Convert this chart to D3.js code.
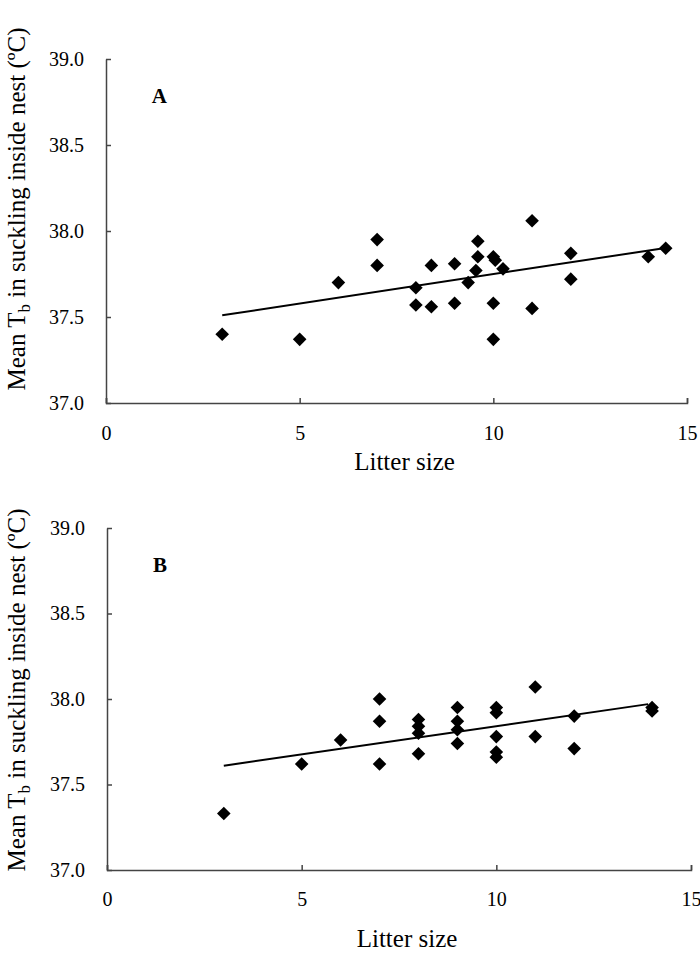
<!DOCTYPE html>
<html><head><meta charset="utf-8">
<script src="https://cdn.jsdelivr.net/npm/d3@7"></script>
<style>body{margin:0;background:#fff}svg{display:block}text{font-family:"Liberation Serif","Times New Roman",serif;fill:#000}</style>
</head><body>
<script>
// Panel A data
const litterA = [3,5,6,7,7,8,8,8.4,8.4,9,9,9.35,9.6,9.6,9.55,10,10.05,10,10,10.25,11,11,12,12,14,14.45];
const tempA   = [37.40,37.37,37.70,37.95,37.80,37.67,37.57,37.80,37.56,37.81,37.58,37.70,37.94,37.85,37.77,37.85,37.83,37.58,37.37,37.78,38.06,37.55,37.87,37.72,37.85,37.90];
const trendA  = [[3,37.51],[14.4,37.90]];
// Panel B data
const litterB = [3,5,6,7,7,7,8,8,8,8,9,9,9,9,10,10,10,10,10,11,11,12,12,14,14];
const tempB   = [37.33,37.62,37.76,38.00,37.87,37.62,37.88,37.84,37.80,37.68,37.95,37.87,37.82,37.74,37.95,37.92,37.78,37.69,37.66,38.07,37.78,37.90,37.71,37.95,37.93];
const trendB  = [[3,37.61],[13.9,37.97]];
const xTicks = [0,5,10,15];
const yTicks = [37.0,37.5,38.0,38.5,39.0];
const yTitle = "Mean T";

const W=700,H=955;
const svg=d3.select("body").append("svg").attr("width",W).attr("height",H);

function panel(o){
  const x=d3.scaleLinear().domain([0,15]).range([o.x0,o.x1]);
  const y=d3.scaleLinear().domain([37,39]).range([o.y0,o.y1]);
  const g=svg.append("g");
  const ax=g.append("g").attr("transform",`translate(0,${o.y0})`)
    .call(d3.axisBottom(x).tickValues(xTicks).tickSizeInner(-5).tickSizeOuter(-5).tickPadding(o.xpad).tickFormat(d3.format("d")));
  const ay=g.append("g").attr("transform",`translate(${o.x0},0)`)
    .call(d3.axisLeft(y).tickValues(yTicks).tickSizeInner(-5).tickSizeOuter(0).tickPadding(22).tickFormat(d3.format(".1f")));
  [ax,ay].forEach(a=>{
    a.attr("font-family","Liberation Serif");
    a.selectAll("path,line").attr("stroke","#444").attr("stroke-width",1.5);
    a.selectAll("text").attr("font-size",20).attr("font-family","Liberation Serif").attr("fill","#000");
  });
  const pts=o.xs.map((v,i)=>({x:v,y:o.ys[i]}));
  g.selectAll("path.pt").data(pts).enter().append("path").attr("class","pt")
    .attr("d","M0,-6.8L6.8,0L0,6.8L-6.8,0Z").attr("fill","#000")
    .attr("transform",d=>`translate(${x(d.x)},${y(d.y)})`);
  g.append("path").datum(o.trend).attr("fill","none").attr("stroke","#000").attr("stroke-width",2)
    .attr("d",d3.line().x(d=>x(d[0])).y(d=>y(d[1])));
  g.append("text").attr("x",x(1.18)).attr("y",y(38.744)).attr("font-size",21).attr("font-weight","bold").text(o.letter);
  g.append("text").attr("x",(o.x0+o.x1)/2+8).attr("y",o.xtY).attr("text-anchor","middle").attr("font-size",25).text("Litter size");
  const t=g.append("text").attr("transform",`translate(25,${o.ytC}) rotate(-90)`).attr("text-anchor","middle").attr("font-size",25);
  t.append("tspan").text(yTitle);
  t.append("tspan").attr("font-size",17).attr("dy",5).text("b");
  t.append("tspan").attr("dy",-5).text(" in suckling inside nest (ºC)");
}
panel({xs:litterA,ys:tempA,trend:trendA,letter:"A",x0:106,x1:687,y0:403,y1:59,xpad:23,xtY:470,ytC:209});
panel({xs:litterB,ys:tempB,trend:trendB,letter:"B",x0:107,x1:691,y0:870,y1:528,xpad:22,xtY:947,ytC:690});
</script>
</body></html>
